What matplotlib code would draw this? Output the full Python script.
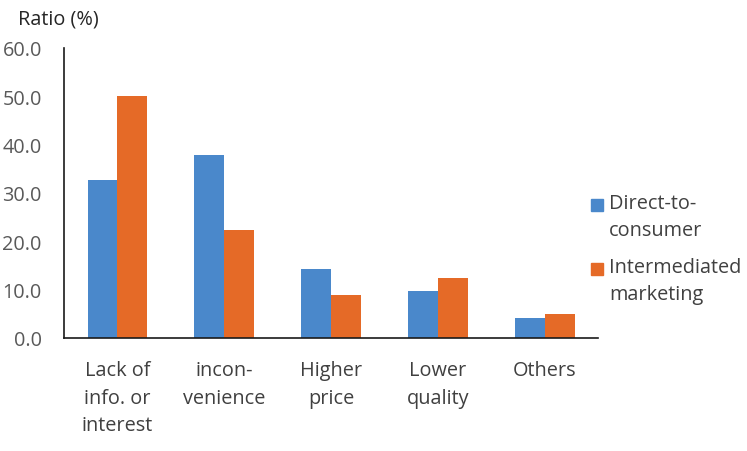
import matplotlib.pyplot as plt
from matplotlib.patches import Rectangle
import numpy as np

plt.rcParams['font.family'] = ['Open Sans', 'DejaVu Sans']

categories = ['Lack of\ninfo. or\ninterest', 'incon-\nvenience', 'Higher\nprice',
              'Lower\nquality', 'Others']
direct = [32.7, 37.8, 14.3, 9.7, 4.2]
intermediated = [50.0, 22.3, 8.9, 12.4, 5.0]
series_names = ['Direct-to-\nconsumer', 'Intermediated\nmarketing']
series_colors = ['#4a88cb', '#e56a27']
yticks = [0, 10, 20, 30, 40, 50, 60]

W, H = 747, 452
fig = plt.figure(figsize=(W / 100, H / 100), dpi=100)
ax = fig.add_axes([0.0857, 0.25, 0.715, 0.6416])

x = np.arange(len(categories))
w = 0.28
ax.bar(x - w / 2, direct, w, color=series_colors[0])
ax.bar(x + w / 2, intermediated, w, color=series_colors[1])

ax.set_xlim(-0.5, len(categories) - 0.5)
ax.set_ylim(0, 60)
ax.set_yticks(yticks)
ax.set_yticklabels([f'{v:.1f}' for v in yticks])
ax.set_xticks(x)
ax.set_xticklabels(categories, linespacing=1.5, va='top')
ax.tick_params(axis='y', length=0, pad=16, labelsize=14.3, labelcolor='#595959')
ax.tick_params(axis='x', length=0, pad=16, labelsize=14.3, labelcolor='#404040')
for s in ['top', 'right']:
    ax.spines[s].set_visible(False)
for s in ['left', 'bottom']:
    ax.spines[s].set_color('#1a1a1a')
    ax.spines[s].set_linewidth(1.2)

fig.text(18 / W, 1 - 20 / H, 'Ratio (%)', fontsize=14.3, color='#262626', va='center')

# legend drawn by hand: square sits beside the first line of each label
for i, (name, col) in enumerate(zip(series_names, series_colors)):
    top = 200 + i * 64
    fig.patches.append(Rectangle((591 / W, 1 - (top + 12) / H), 12 / W, 12 / H,
                                 transform=fig.transFigure, color=col))
    fig.text(609 / W, 1 - (top + 17.5) / H, name, fontsize=14.3, color='#404040',
             va='center', ha='left', linespacing=1.45)

fig.savefig('out.png', dpi=100)
